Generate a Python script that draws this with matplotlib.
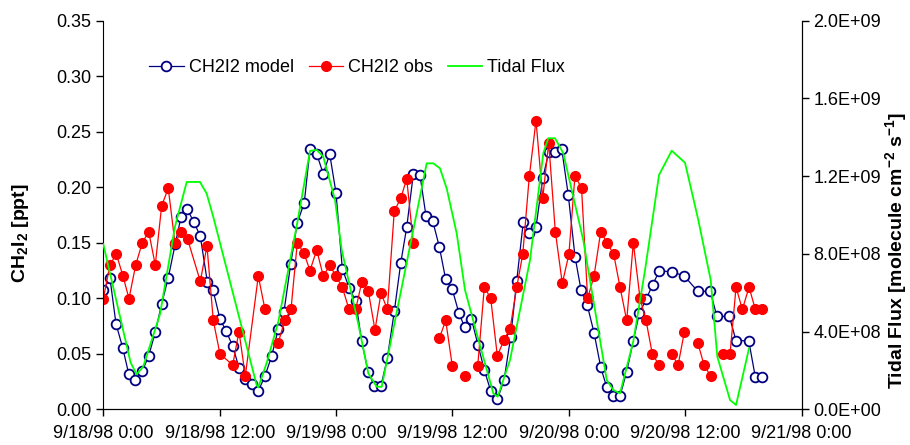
import numpy as np
import matplotlib
matplotlib.use("Agg")
import matplotlib.pyplot as plt
from matplotlib.ticker import FuncFormatter

plt.rcParams['font.family'] = ['Liberation Sans', 'DejaVu Sans']
plt.rcParams['mathtext.default'] = 'regular'

# hours after 9/18/98 0:00
model_t = [0.0, 0.69, 1.31, 2.0, 2.62, 3.3, 4.02, 4.68, 5.36, 6.02, 6.7, 7.42, 8.01, 8.66,
           9.32, 10.0, 10.72, 11.31, 12.03, 12.65, 13.34, 13.99, 14.58, 15.3, 15.98, 16.67,
           17.36, 18.04, 18.63, 19.32, 20.0, 20.72, 21.31, 22.0, 22.68, 23.34, 23.99, 24.64,
           25.33, 26.02, 26.64, 27.32, 27.94, 28.63, 29.28, 30.0, 30.66, 31.28, 31.96, 32.65,
           33.27, 33.96, 34.64, 35.3, 35.98, 36.67, 37.26, 37.94, 38.63, 39.28, 39.94, 40.62,
           41.31, 42.0, 42.62, 43.3, 43.92, 44.61, 45.3, 45.92, 46.6, 47.26, 47.94, 48.63,
           49.25, 49.9, 50.59, 51.28, 51.9, 52.52, 53.27, 53.96, 54.64, 55.26, 55.95, 56.64,
           57.32, 58.6, 59.9, 61.28, 62.58, 63.25, 64.54, 65.23, 66.54, 67.22, 67.91]
model_ch2i2 = [0.1075, 0.118, 0.077, 0.0555, 0.032, 0.026, 0.0345, 0.048, 0.0696, 0.095,
               0.1186, 0.149, 0.173, 0.18, 0.169, 0.156, 0.115, 0.1075, 0.0814, 0.0708,
               0.057, 0.0375, 0.027, 0.0225, 0.0165, 0.03, 0.048, 0.0723, 0.088, 0.131,
               0.168, 0.186, 0.2345, 0.23, 0.212, 0.23, 0.195, 0.1267, 0.1096, 0.0975,
               0.0612, 0.0333, 0.0213, 0.0213, 0.0459, 0.0882, 0.1315, 0.164, 0.2117, 0.2108,
               0.174, 0.1696, 0.1465, 0.117, 0.108, 0.0864, 0.0739, 0.0817, 0.058, 0.0354,
               0.0165, 0.009, 0.026, 0.0654, 0.1156, 0.169, 0.159, 0.164, 0.208, 0.2315,
               0.2315, 0.2345, 0.1927, 0.1375, 0.1075, 0.0936, 0.069, 0.038, 0.0198, 0.0123,
               0.012, 0.034, 0.0618, 0.0864, 0.099, 0.1123, 0.1246, 0.124, 0.12, 0.1063,
               0.1063, 0.0837, 0.0837, 0.0618, 0.0618, 0.029, 0.029]

# nan = gap in the observed record
obs_t = [0.0, 0.69, 1.34, 2.03, 2.65, 3.34, 4.02, 4.68, 5.36, 6.02, 6.7, 7.39, 8.01, 8.7,
         10.0, 10.69, 11.34, 12.03, 13.34, 13.99, 14.64, 15.98, 16.67, 17.3, 18.04, 18.7,
         19.35, 20.0, 20.69, 21.31, 22.0, 22.68, 23.34, 23.99, 24.64, 25.33, 26.02, 26.64,
         27.32, 28.01, 28.63, 29.28, 30.0, 30.66, 31.28, 31.96, 33.0, 34.64, 35.3, 35.98,
         36.6, 37.29, 37.9, 38.6, 39.28, 39.94, 40.62, 41.31, 41.93, 42.62, 43.24, 43.92,
         44.61, 45.3, 45.92, 46.6, 47.32, 48.0, 48.62, 49.3, 49.93, 50.59, 51.28, 51.93,
         52.62, 53.27, 53.96, 54.64, 55.33, 55.95, 56.6, 57.29, 57.9, 58.6, 59.26, 59.91,
         60.6, 61.28, 61.93, 62.6, 63.3, 63.92, 64.61, 65.23, 65.88, 66.57, 67.22, 67.91]
obs_ch2i2 = [0.0997, 0.13, 0.14, 0.12, 0.0997, 0.13, 0.15, 0.16, 0.13, 0.1834, 0.199, 0.1495,
             0.16, 0.153, 0.1153, 0.147, 0.08, 0.0498, 0.04, 0.07, 0.03, 0.12, 0.09, np.nan,
             0.06, 0.08, 0.09, 0.15, 0.1405, 0.125, 0.1435, 0.12, 0.1297, 0.12, 0.11, 0.09,
             0.09, 0.1143, 0.1065, 0.0714, 0.1048, 0.09, 0.1786, 0.19, 0.2075, 0.15, np.nan,
             0.064, 0.08, 0.039, np.nan, 0.03, np.nan, 0.039, 0.11, 0.1, 0.0482, 0.0624,
             0.0723, 0.11, 0.1396, 0.21, 0.26, 0.19, 0.24, 0.16, 0.1135, 0.1396, 0.21,
             0.1996, 0.1, 0.12, 0.16, 0.15, 0.1396, 0.11, 0.08, 0.15, 0.1, 0.08, 0.0498,
             0.04, np.nan, 0.0498, 0.04, 0.07, np.nan, 0.06, 0.04, 0.03, np.nan, 0.0498,
             0.0498, 0.11, 0.09, 0.11, 0.09, 0.09]

flux_t = [0.0, 2.82, 3.44, 4.12, 5.85, 7.39, 8.6, 9.97, 10.66, 11.34, 15.81, 15.98, 16.85,
          18.04, 20.0, 21.31, 22.0, 22.68, 23.89, 24.58, 26.29, 27.32, 28.19, 28.7, 33.34,
          34.02, 34.71, 35.4, 36.43, 37.29, 38.49, 40.21, 40.66, 41.93, 43.99, 45.36, 45.88,
          46.57, 47.42, 49.48, 51.9, 52.58, 53.27, 54.64, 55.85, 57.29, 58.6, 59.97, 61.34,
          62.62, 63.3, 64.61, 65.23, 66.57]
flux = [0.85, 0.24, 0.18, 0.22, 0.49, 0.94, 1.17, 1.17, 1.11, 0.99, 0.125, 0.113, 0.24,
        0.45, 0.96, 1.33, 1.335, 1.3, 1.077, 0.82, 0.44, 0.185, 0.116, 0.116, 1.266, 1.266,
        1.24, 1.137, 0.906, 0.614, 0.391, 0.082, 0.065, 0.254, 0.768, 1.318, 1.395, 1.395,
        1.318, 0.871, 0.151, 0.099, 0.082, 0.35, 0.717, 1.206, 1.331, 1.269, 0.974, 0.665,
        0.271, 0.048, 0.022, 0.314]  # x 1e9

tick_hours = [0, 12, 24, 36, 48, 60, 72]
tick_labels = ["9/18/98 0:00", "9/18/98 12:00", "9/19/98 0:00", "9/19/98 12:00",
               "9/20/98 0:00", "9/20/98 12:00", "9/21/98 0:00"]

fig, ax = plt.subplots(figsize=(9.1, 4.45), dpi=100)
fig.subplots_adjust(left=0.1135, right=0.881, bottom=0.0802, top=0.9535)
ax2 = ax.twinx()

l1, = ax.plot(model_t, model_ch2i2, color='#000080', lw=0.9, marker='o', ms=7,
              mfc='white', mec='#000080', mew=1.3, label='CH2I2 model')
l2, = ax.plot(obs_t, obs_ch2i2, color='#ff0000', lw=0.9, marker='o', ms=7,
              mfc='#ff0000', mec='#ff0000', label='CH2I2 obs')
l3, = ax2.plot(flux_t, np.array(flux) * 1e9, color='#00ff00', lw=1.3, label='Tidal Flux')

ax.set_xlim(0, 72)
ax.set_ylim(0, 0.35)
ax2.set_ylim(0, 2.0e9)
ax.set_xticks(tick_hours)
ax.set_xticklabels(tick_labels)
ax.set_yticks(np.arange(0, 0.351, 0.05))
ax.yaxis.set_major_formatter(FuncFormatter(lambda v, p: f"{v:.2f}"))
ax2.set_yticks(np.arange(0, 2.01e9, 4e8))
ax2.yaxis.set_major_formatter(FuncFormatter(lambda v, p: f"{v:.1E}"))

for a in (ax, ax2):
    a.spines['top'].set_visible(False)
    a.tick_params(labelsize=13, length=5, width=1, direction='out')
ax2.spines['left'].set_visible(False)
ax.tick_params(axis='x', pad=6)

ax.set_ylabel('CH$_2$I$_2$ [ppt]', fontsize=14, fontweight='bold')
ax.yaxis.set_label_coords(-0.104, 0.454)
ax2.set_ylabel('Tidal Flux [molecule cm$^{-2}$ s$^{-1}$]', fontsize=14,
               fontweight='bold')
ax2.yaxis.set_label_coords(1.116, 0.41)

ax2.legend([l1, l2, l3], ['CH2I2 model', 'CH2I2 obs', 'Tidal Flux'], ncol=3,
           frameon=False, fontsize=13, loc='center left',
           bbox_to_anchor=(133 / 910, 1 - 68 / 445), bbox_transform=fig.transFigure,
           handlelength=1.9, handletextpad=0.3, columnspacing=0.8)

fig.savefig('out.png', dpi=100)
